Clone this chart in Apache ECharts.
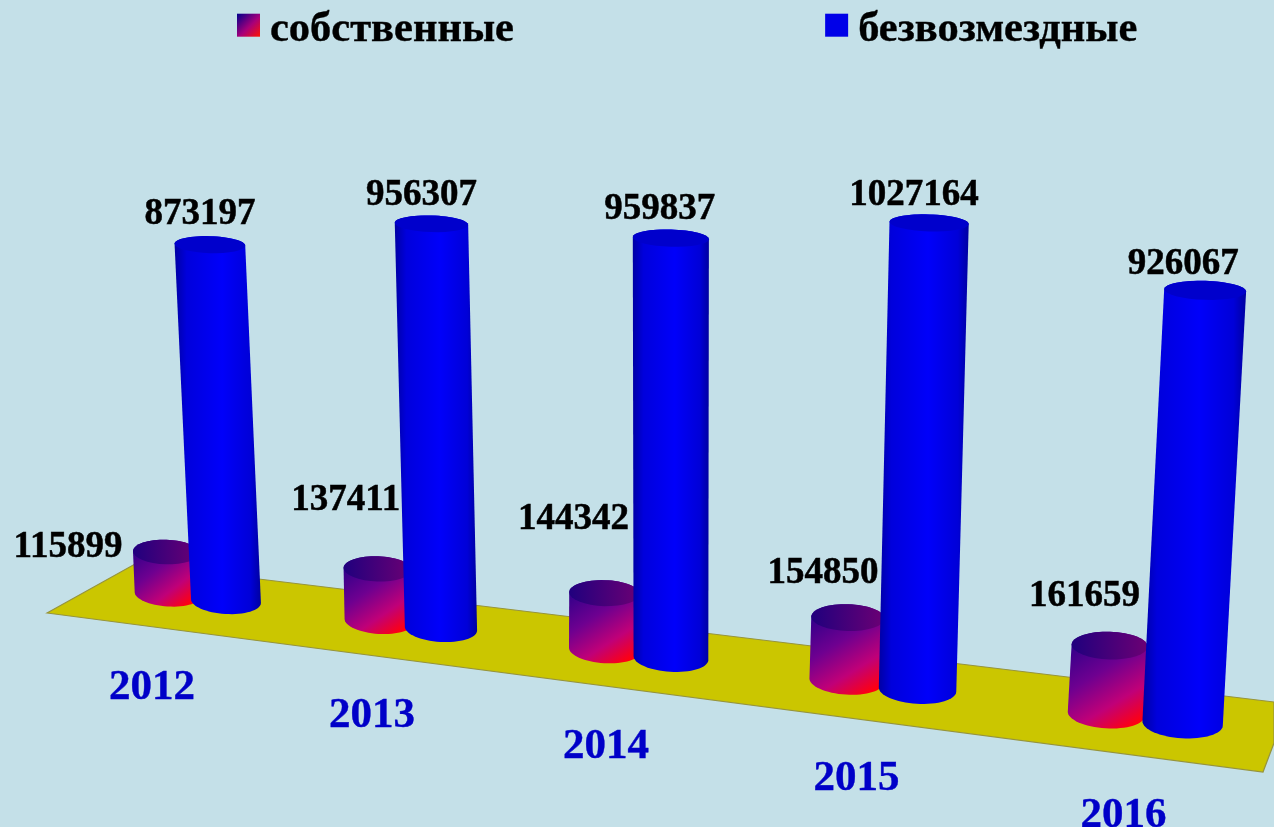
<!DOCTYPE html>
<html><head><meta charset="utf-8">
<script src="https://cdn.jsdelivr.net/npm/echarts@6/dist/echarts.min.js"></script>
<style>html,body{margin:0;padding:0;background:#c4e0e8}#c{width:1274px;height:827px}</style>
</head><body><div id="c"></div>
<script>
const categories = ['2012','2013','2014','2015','2016'];
const ownName = 'собственные';
const freeName = 'безвозмездные';
const ownValues = [115899,137411,144342,154850,161659];
const freeValues = [873197,956307,959837,1027164,926067];

// hand-placed label offsets of the original slide, relative to each bar top (px)
const ownLabelShift = [[-98,-4.5],[-32,-68.5],[-31,-73.5],[-25,-44.5],[-25,-49.5]];
const freeLabelShift = [[-10,-30.5],[-10,-28.5],[-11,-28.5],[-15,-27.5],[-22,-25.5]];
const yearShift = [[-74,74],[-69,74],[-65,75],[-61,75],[-59,78]];

const SERIF = '"Liberation Serif","Times New Roman",serif';
const chart = echarts.init(document.getElementById('c'));
const LG = echarts.graphic.LinearGradient;

// perspective view of the flat grid (grid px -> picture px)
function project(px, py){
  const u=(px-200)/200, V=(700-py)/500;
  const D=1-0.0326*u-0.0398*V;
  return {x:(226+200.6*u-26.8*V)/D, y:(614+7*u-423*V)/D, k:1/D, V:V};
}
function arc(c,rx,ry,th,from,to){
  const pts=[], n=32;
  for(let j=0;j<=n;j++){
    const t=from+(to-from)*j/n;
    pts.push([c.x+rx*Math.cos(t)*Math.cos(th)-ry*Math.sin(t)*Math.sin(th),
              c.y+rx*Math.cos(t)*Math.sin(th)+ry*Math.sin(t)*Math.cos(th)]);
  }
  return pts;
}
function cylinderItem(opt){
  return function(params,api){
    const i=api.value(0), v=api.value(1);
    const band=api.size([1,0])[0];
    const a=api.coord([i,0]), b=api.coord([i,v]);
    const base=project(a[0]+opt.du*band,a[1]);
    const top=project(b[0]+opt.du*band,b[1]);
    const ryB=13*base.k, ryT=(13-5.5*top.V)*top.k;
    const cb={x:base.x,y:base.y-ryB};
    const ct={x:top.x,y:top.y-8.5*top.k};
    const rb=opt.r*base.k, rt=opt.r*top.k*0.975;
    const body=arc(cb,rb,ryB,0.06,0,Math.PI).concat(arc(ct,rt,ryT,0.03,Math.PI,2*Math.PI));
    const cap=arc(ct,rt,ryT,0.03,0,2*Math.PI);
    const s=opt.shift[i];
    return {type:'group',children:[
      {type:'polygon',shape:{points:body},style:{fill:opt.body}},
      {type:'polygon',shape:{points:cap},style:{fill:opt.cap}},
      {type:'text',style:{text:String(v),x:ct.x+s[0],y:ct.y+s[1],fill:'#000',stroke:'#000',lineWidth:0.5,
        font:'bold 37px '+SERIF,textAlign:'center',textVerticalAlign:'middle'}}
    ]};
  };
}
const ownBody=new LG(0,0,0.75,1,[{offset:0,color:'#1c0088'},{offset:0.45,color:'#6e0090'},{offset:0.75,color:'#c00078'},{offset:1,color:'#ff0010'}]);
const ownCap=new LG(0,0,1,0,[{offset:0,color:'#20007e'},{offset:1,color:'#6c0074'}]);
const freeBody=new LG(0,0,1,0,[{offset:0,color:'#0000a4'},{offset:0.14,color:'#0000dc'},{offset:0.55,color:'#0000fa'},{offset:0.88,color:'#0000d8'},{offset:1,color:'#0000a0'}]);
const freeCap='#0000cc';
const swatch=new LG(0,0,1,1,[{offset:0,color:'#00008c'},{offset:0.55,color:'#a8007a'},{offset:1,color:'#ff1400'}]);

chart.setOption({
  animation:false,
  backgroundColor:'#c4e0e8',
  legend:{left:237,top:8.5,padding:0,itemWidth:23,itemHeight:23,itemGap:311,selectedMode:false,
    icon:'rect',
    formatter:function(n){return '{a|'+n+'}';},
    textStyle:{rich:{a:{fontFamily:SERIF,fontWeight:'bold',fontSize:42.5,color:'#000',textBorderColor:'#000',textBorderWidth:0.4,padding:[10,0,0,5]}}},
    data:[{name:ownName,itemStyle:{color:swatch}},{name:freeName,itemStyle:{color:'#0000e8'}}]},
  grid:{left:100,width:1000,top:100,height:600},
  xAxis:{type:'category',data:categories,show:false},
  yAxis:{type:'value',min:0,max:1200000,show:false},
  graphic:[{type:'polygon',z:0,silent:true,
    shape:{points:[[47,613],[135,564],[1274,702],[1274,743],[1263,772]]},
    style:{fill:'#cbc600',stroke:'#96943c',lineWidth:1.2}}],
  series:[
    {name:ownName,type:'custom',z:3,data:ownValues.map((v,i)=>[i,v]),encode:{x:0,y:1},itemStyle:{color:swatch},clip:false,
      renderItem:cylinderItem({du:-0.28,r:34,body:ownBody,cap:ownCap,shift:ownLabelShift})},
    {name:freeName,type:'custom',z:4,data:freeValues.map((v,i)=>[i,v]),encode:{x:0,y:1},itemStyle:{color:'#0000e8'},clip:false,
      renderItem:cylinderItem({du:0,r:35,body:freeBody,cap:freeCap,shift:freeLabelShift})},
    {name:'years',type:'custom',z:5,data:categories.map((c,i)=>[i,0]),encode:{x:0,y:1},clip:false,
      renderItem(params,api){
        const i=api.value(0), a=api.coord([i,0]), p=project(a[0],a[1]), s=yearShift[i];
        return {type:'text',style:{text:categories[i],x:p.x+s[0],y:p.y+s[1],fill:'#0000c8',stroke:'#0000c8',lineWidth:0.4,
          font:'bold 43px '+SERIF,textAlign:'center',textVerticalAlign:'middle'}};
      }}
  ]
});
</script></body></html>
